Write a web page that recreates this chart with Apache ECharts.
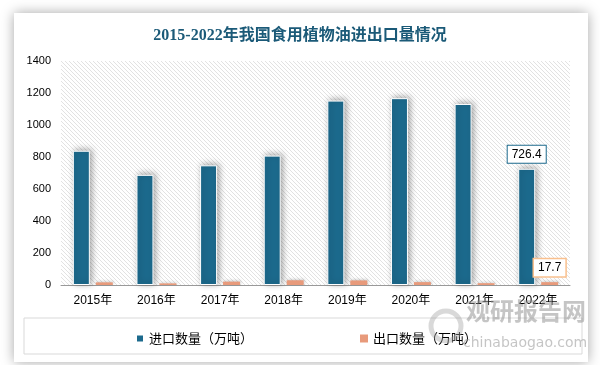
<!DOCTYPE html>
<html><head><meta charset="utf-8">
<script src="https://cdn.jsdelivr.net/npm/echarts@6/dist/echarts.min.js"></script>
<style>html,body{margin:0;padding:0;background:#fff}#c{width:600px;height:365px}</style>
</head><body><div id="c"></div>
<script>
var categories = ['2015年','2016年','2017年','2018年','2019年','2020年','2021年','2022年'];
var importVals = [839.1, 688.4, 748.0, 808.7, 1152.7, 1167.7, 1131.5, 726.4];
var exportVals = [16.5, 10.2, 21.0, 29.5, 28.5, 18.0, 11.5, 17.7];
var seriesNames = ['进口数量（万吨）', '出口数量（万吨）'];
var title = '2015-2022年我国食用植物油进出口量情况';

var pc = document.createElement('canvas');
pc.width = 4; pc.height = 4;
var g = pc.getContext('2d');
g.fillStyle = '#fff'; g.fillRect(0,0,4,4);
g.strokeStyle = '#e2e2e2'; g.lineWidth = 1;
g.beginPath(); g.moveTo(-1,-1); g.lineTo(5,5); g.moveTo(-1,3); g.lineTo(1,5); g.moveTo(3,-1); g.lineTo(5,1); g.stroke();

var chart = echarts.init(document.getElementById('c'));
var last = categories.length - 1;
chart.setOption({
  backgroundColor: '#fff',
  animation: false,
  title: { text: title, left: 'center', top: 23,
    textStyle: { fontSize: 16, fontWeight: 'bold', color: '#1b5a78', fontFamily: 'Liberation Serif, Noto Sans CJK SC, serif' } },
  graphic: [
    { type: 'rect', z: -10, shape: { x: 14, y: 13, width: 574, height: 349 },
      style: { fill: '#fff', shadowBlur: 12, shadowColor: 'rgba(0,0,0,0.35)' } },
    { type: 'rect', z: -5, shape: { x: 24, y: 318, width: 558, height: 36 },
      style: { fill: 'none', stroke: '#d9d9d9', lineWidth: 1 } },
    { type: 'text', z: 100, left: 466, top: 299,
      style: { text: '观研报告网', fill: 'rgba(140,140,140,0.5)', font: 'bold 24px Noto Sans CJK SC' } },
    { type: 'text', z: 100, left: 463, top: 336,
      style: { text: 'chinabaogao.com', fill: 'rgba(140,140,140,0.5)', font: '14px DejaVu Sans' } },
    { type: 'circle', z: 100, shape: { cx: 446, cy: 326, r: 15 },
      style: { fill: 'none', stroke: 'rgba(160,160,160,0.4)', lineWidth: 5 } }
  ],
  legend: { left: 130, top: 327, itemWidth: 8, itemHeight: 8, itemGap: 107, icon: 'rect',
    textStyle: { fontSize: 13, color: '#000', fontFamily: 'Noto Sans CJK SC' }, data: seriesNames },
  grid: { left: 61, right: 30, top: 61, bottom: 80, show: true, borderWidth: 0,
    backgroundColor: { image: pc, repeat: 'repeat' } },
  xAxis: { type: 'category', data: categories,
    axisLine: { lineStyle: { color: '#999', width: 1 } }, axisTick: { show: false },
    axisLabel: { color: '#000', fontSize: 12, margin: 10, fontFamily: 'Liberation Sans, Noto Sans CJK SC' } },
  yAxis: { type: 'value', min: 0, max: 1400, interval: 200,
    splitLine: { show: false }, axisLine: { show: false }, axisTick: { show: false },
    axisLabel: { color: '#000', fontSize: 11, margin: 10, fontFamily: 'Liberation Sans',
      formatter: function(v){ return String(v); } } },
  series: [
    { name: seriesNames[0], type: 'bar', barWidth: 17, barGap: '35%',
      itemStyle: { color: '#1c6a8d', borderColor: '#fff', borderWidth: 1,
        shadowBlur: 6, shadowColor: 'rgba(0,0,0,0.35)', shadowOffsetX: 2, shadowOffsetY: -1 },
      data: importVals.map(function(v, i){
        return i === last ? { value: v, label: { show: true, position: 'top', distance: 6,
          color: '#000', fontSize: 12, backgroundColor: '#fff', borderColor: '#1c6a8d', borderWidth: 1,
          padding: [3, 4, 2, 4] } } : v; }) },
    { name: seriesNames[1], type: 'bar', barWidth: 17,
      itemStyle: { color: '#e89a7b', borderWidth: 0,
        shadowBlur: 3, shadowColor: 'rgba(0,0,0,0.2)', shadowOffsetX: 1, shadowOffsetY: -1 },
      data: exportVals.map(function(v, i){
        return i === last ? { value: v, label: { show: true, position: 'top', distance: 6,
          color: '#000', fontSize: 12, backgroundColor: '#fff', borderColor: '#f9c08e', borderWidth: 1.5,
          padding: [3, 4, 2, 4] } } : v; }) }
  ]
});
</script></body></html>
